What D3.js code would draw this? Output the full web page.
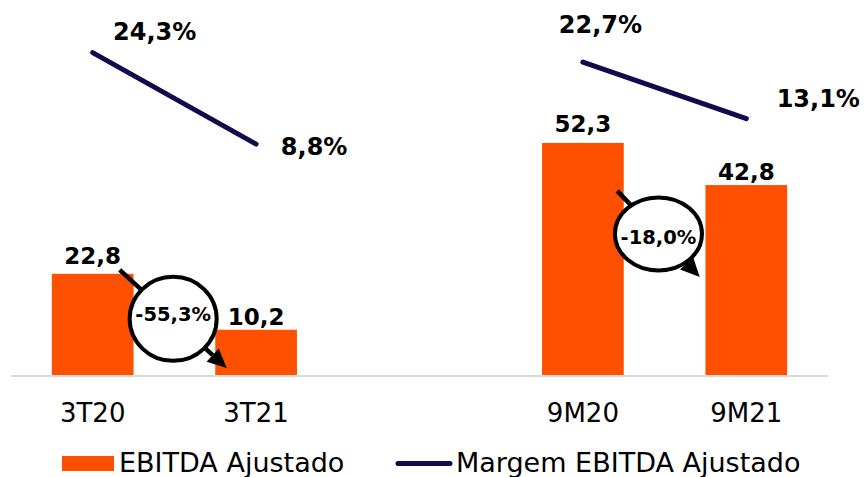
<!DOCTYPE html>
<html>
<head>
<meta charset="utf-8">
<script src="https://cdn.jsdelivr.net/npm/d3@7"></script>
<style>
  html, body { margin: 0; padding: 0; background: #fff; }
  svg text { font-family: "DejaVu Sans", Verdana, sans-serif; }
</style>
</head>
<body>
<div id="chart"></div>
<script>
// ---- dados ----
const categories = ['3T20', '3T21', '9M20', '9M21'];
const ebitda     = [22.8, 10.2, 52.3, 42.8];          // R$ mi
const margem     = [24.3, 8.8, 22.7, 13.1];           // %
const ebitdaLbl  = ['22,8', '10,2', '52,3', '42,8'];
const margemLbl  = ['24,3%', '8,8%', '22,7%', '13,1%'];
const pairs      = [['3T20', '3T21'], ['9M20', '9M21']];
const changeLbl  = ['-55,3%', '-18,0%'];

// ---- layout (posições manuais dos rótulos, como no slide) ----
const slots = ['3T20', '3T21', 'gap', '9M20', '9M21'];
const barLabelDy = [-10, -5, -11, -5];
const margemLabelOff = [[62, -13], [58, 10.5], [17.5, -29], [72, -12]];
// seta: fração da banda + valor no eixo do EBITDA
const changeGeo = [
  { fx0: 0.83, v0: 23.7, fx1: 0.14, v1: 1.6, rx: 43.5, ry: 42,   tdy: 2 },
  { fx0: 0.92, v0: 41.5, fx1: -0.07, v1: 22.1, rx: 43.5, ry: 36.5, tdy: 10.5 }
];

const W = 865, H = 477;
const baseY = 375;
const ORANGE = '#ff5000';
const NAVY = '#0f0c4e';

const svg = d3.select('#chart').append('svg')
  .attr('width', W).attr('height', H);

const x = d3.scaleBand().domain(slots).range([11, 828])
  .paddingInner(0.5).paddingOuter(0.25);
const y  = d3.scaleLinear().domain([0, 80]).range([baseY, 20]);
const yM = d3.scaleLinear().domain([0, 30]).range([196, 19]);
const bw = x.bandwidth();
const cx = c => x(c) + bw / 2;

const rows = categories.map((c, i) => ({
  cat: c, v: ebitda[i], m: margem[i], vl: ebitdaLbl[i], ml: margemLbl[i], i
}));

// eixo
svg.append('line')
  .attr('x1', x.range()[0]).attr('x2', x.range()[1])
  .attr('y1', baseY + 1).attr('y2', baseY + 1)
  .attr('stroke', '#d9d9d9').attr('stroke-width', 2);

// barras
svg.append('g').selectAll('rect')
  .data(rows).join('rect')
  .attr('x', d => x(d.cat))
  .attr('y', d => y(d.v))
  .attr('width', bw)
  .attr('height', d => y(0) - y(d.v))
  .attr('fill', ORANGE);

svg.append('g').selectAll('text')
  .data(rows).join('text')
  .attr('x', d => cx(d.cat))
  .attr('y', d => y(d.v) + barLabelDy[d.i])
  .attr('text-anchor', 'middle')
  .attr('font-size', '23px').attr('font-weight', 'bold')
  .attr('fill', '#000')
  .text(d => d.vl);

// categorias
svg.append('g').selectAll('text')
  .data(categories).join('text')
  .attr('x', d => cx(d))
  .attr('y', 422)
  .attr('text-anchor', 'middle')
  .attr('font-size', '26px')
  .attr('fill', '#000')
  .text(d => d);

// linha da margem (segmentos separados)
const line = d3.line().x(d => cx(d.cat)).y(d => yM(d.m));
svg.append('g').selectAll('path')
  .data(pairs.map(p => rows.filter(r => p.includes(r.cat))))
  .join('path')
  .attr('d', line)
  .attr('fill', 'none')
  .attr('stroke', NAVY)
  .attr('stroke-width', 5)
  .attr('stroke-linecap', 'round');

svg.append('g').selectAll('text')
  .data(rows).join('text')
  .attr('x', d => cx(d.cat) + margemLabelOff[d.i][0])
  .attr('y', d => yM(d.m) + margemLabelOff[d.i][1])
  .attr('text-anchor', 'middle')
  .attr('font-size', '24px').attr('font-weight', 'bold')
  .attr('fill', '#000')
  .text(d => d.ml);

// variação: seta + elipse
pairs.forEach((p, k) => {
  const g = changeGeo[k];
  const x0 = x(p[0]) + g.fx0 * bw, y0 = y(g.v0);
  const x1 = x(p[1]) + g.fx1 * bw, y1 = y(g.v1);
  const ang = Math.atan2(y1 - y0, x1 - x0);
  const headL = 19, headW = 9;
  const bx = x1 - headL * Math.cos(ang), by = y1 - headL * Math.sin(ang);
  const grp = svg.append('g');

  grp.append('line')
    .attr('x1', x0).attr('y1', y0).attr('x2', bx).attr('y2', by)
    .attr('stroke', '#000').attr('stroke-width', 4.5);
  grp.append('path')
    .attr('d', `M${x1},${y1}L${bx - headW * Math.sin(ang)},${by + headW * Math.cos(ang)}L${bx + headW * Math.sin(ang)},${by - headW * Math.cos(ang)}Z`)
    .attr('fill', '#000');

  const ex = (x0 + x1) / 2, ey = (y0 + y1) / 2;
  grp.append('ellipse')
    .attr('cx', ex).attr('cy', ey).attr('rx', g.rx).attr('ry', g.ry)
    .attr('fill', '#fff').attr('stroke', '#000').attr('stroke-width', 4);
  grp.append('text')
    .attr('x', ex).attr('y', ey + g.tdy)
    .attr('text-anchor', 'middle')
    .attr('font-size', '19.5px').attr('font-weight', 'bold')
    .attr('fill', '#000')
    .text(changeLbl[k]);
});

// legenda
const leg = svg.append('g');
leg.append('rect').attr('x', 62).attr('y', 456).attr('width', 52).attr('height', 15).attr('fill', ORANGE);
leg.append('text').attr('x', 119).attr('y', 472).attr('font-size', '27px').attr('fill', '#000').text('EBITDA Ajustado');
leg.append('line').attr('x1', 398).attr('x2', 450).attr('y1', 463.5).attr('y2', 463.5)
  .attr('stroke', NAVY).attr('stroke-width', 5).attr('stroke-linecap', 'round');
leg.append('text').attr('x', 456).attr('y', 472).attr('font-size', '27px').attr('fill', '#000').text('Margem EBITDA Ajustado');
</script>
</body>
</html>
